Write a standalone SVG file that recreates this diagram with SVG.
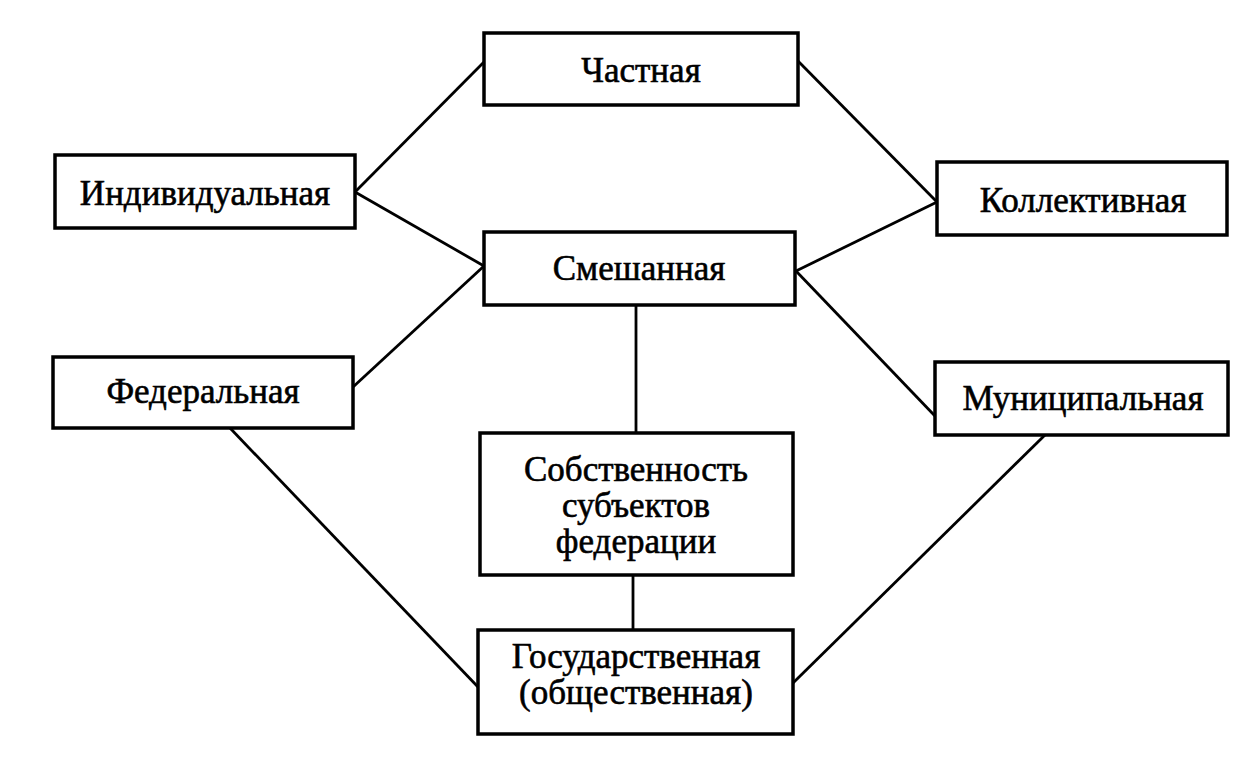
<svg xmlns="http://www.w3.org/2000/svg" width="1256" height="760" viewBox="0 0 1256 760">
<style>
.box{fill:#fff;stroke:#000;stroke-width:3.5}
.lbl{font-family:"Liberation Serif","Times New Roman",serif;font-size:35px;fill:#000;stroke:#000;stroke-width:0.6;text-anchor:middle}
.con line{stroke:#000;stroke-width:2.8}
</style>
<rect width="1256" height="760" fill="#fff"/>
<g class="con" id="connectors">
<line x1="355" y1="192" x2="484" y2="62"/>
<line x1="355" y1="192" x2="484" y2="266"/>
<line x1="353" y1="387" x2="484" y2="266"/>
<line x1="797" y1="60" x2="937" y2="202"/>
<line x1="796" y1="271" x2="937" y2="202"/>
<line x1="796" y1="271" x2="935" y2="416"/>
<line x1="636" y1="305" x2="636" y2="433"/>
<line x1="633" y1="575" x2="633" y2="630"/>
<line x1="230" y1="428" x2="478" y2="687"/>
<line x1="793" y1="683" x2="1045" y2="435"/>
</g>
<g id="n-chastnaya"><rect class="box" x="484" y="33" width="314" height="72"/><text class="lbl" x="641" y="82">Частная</text></g>
<g id="n-individ"><rect class="box" x="55" y="155" width="300" height="73"/><text class="lbl" x="205" y="205">Индивидуальная</text></g>
<g id="n-kollekt"><rect class="box" x="937" y="162" width="290" height="73"/><text class="lbl" x="1083" y="212">Коллективная</text></g>
<g id="n-smesh"><rect class="box" x="484" y="232" width="311" height="73"/><text class="lbl" x="639" y="280">Смешанная</text></g>
<g id="n-federal"><rect class="box" x="53" y="357" width="300" height="71"/><text class="lbl" x="203" y="403">Федеральная</text></g>
<g id="n-munic"><rect class="box" x="935" y="362" width="293" height="73"/><text class="lbl" x="1083" y="410">Муниципальная</text></g>
<g id="n-subj"><rect class="box" x="480" y="433" width="313" height="142"/><text class="lbl" x="636" y="481">Собственность</text><text class="lbl" x="636" y="517">субъектов</text><text class="lbl" x="636" y="553">федерации</text></g>
<g id="n-gos"><rect class="box" x="478" y="630" width="315" height="104"/><text class="lbl" x="636" y="668">Государственная</text><text class="lbl" x="636" y="704">(общественная)</text></g>
</svg>
